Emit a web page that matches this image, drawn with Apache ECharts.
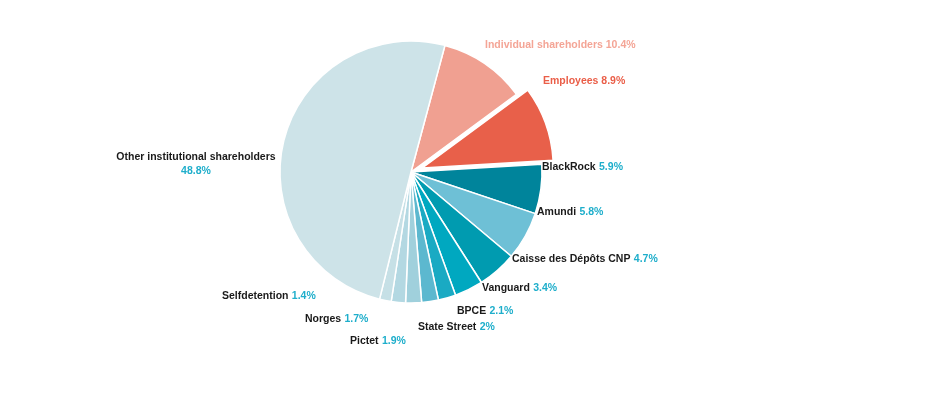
<!DOCTYPE html>
<html>
<head>
<meta charset="utf-8">
<script src="https://cdn.jsdelivr.net/npm/echarts@6/dist/echarts.min.js"></script>
<style>
html, body { margin: 0; padding: 0; background: #fff; }
#chart { width: 940px; height: 398px; }
</style>
</head>
<body>
<div id="chart"></div>
<script>
var names = ['Individual shareholders', 'Employees', 'BlackRock', 'Amundi', 'Caisse des Dépôts CNP',
	'Vanguard', 'BPCE', 'State Street', 'Pictet', 'Norges', 'Selfdetention', 'Other institutional shareholders'];
var values = [10.4, 8.9, 5.9, 5.8, 4.7, 3.4, 2.1, 2, 1.9, 1.7, 1.4, 48.8];
var colors = ['#f0a091', '#e8604a', '#00849b', '#6ec0d6', '#009bb0', '#00a8c0', '#1aaac3',
	'#5cb8cf', '#a0d0dc', '#b3d8e2', '#c6e0e6', '#cde3e8'];

// label anchor (left/middle unless noted)
var labelPos = {
	'Individual shareholders': [485, 45],
	'Employees': [543, 83],
	'BlackRock': [542, 167],
	'Amundi': [537, 212],
	'Caisse des Dépôts CNP': [512, 259],
	'Vanguard': [482, 288],
	'BPCE': [457, 311],
	'State Street': [418, 327],
	'Pictet': [350, 341],
	'Norges': [305, 319],
	'Selfdetention': [222, 296],
	'Other institutional shareholders': [196, 164]
};

var pieChart;

initChart();

function initChart() {
	pieChart = echarts.init(document.getElementById('chart'));
	var font = 'Liberation Sans, Arial';
	var data = names.map(function(n, i) {
		var item = {
			name: n,
			value: values[i],
			itemStyle: { color: colors[i] },
			label: {
				formatter: '{n|' + n + '} {v|' + values[i] + '%}'
			}
		};
		if (i === 0) {
			item.label.formatter = '{s|' + n + ' ' + values[i] + '%}';
		}
		if (i === 1) {
			// exploded slice: its label is drawn as graphic below
			item.selected = true;
			item.label.show = false;
		}
		if (i === names.length - 1) {
			item.label.formatter = '{n|' + n + '}\n{v|' + values[i] + '%}';
			item.label.align = 'center';
		}
		return item;
	});
	var rich = {
		n: { fontFamily: font, fontWeight: 'bold', fontSize: 10.5, color: '#1a1a1a', lineHeight: 14 },
		v: { fontFamily: font, fontWeight: 'bold', fontSize: 10.5, color: '#1eaecb', lineHeight: 14 },
		s: { fontFamily: font, fontWeight: 'bold', fontSize: 10.5, color: '#f4a596' }
	};
	var option = {
		animation: false,
		graphic: [{
			type: 'text',
			left: labelPos['Employees'][0],
			top: labelPos['Employees'][1] - 7,
			style: {
				text: names[1] + ' ' + values[1] + '%',
				font: 'bold 10.5px ' + font,
				fill: '#ea5e48'
			}
		}],
		series: [{
			type: 'pie',
			center: [411, 172],
			radius: [0, 131],
			startAngle: 75,
			clockwise: true,
			selectedMode: 'single',
			selectedOffset: 12,
			avoidLabelOverlap: false,
			itemStyle: { borderColor: '#fff', borderWidth: 1.5 },
			emphasis: { disabled: true },
			label: {
				show: true,
				position: 'outside',
				rich: rich
			},
			labelLine: { show: false },
			labelLayout: function(params) {
				var name = names[params.dataIndex];
				var p = labelPos[name];
				var last = params.dataIndex === names.length - 1;
				return {
					x: p[0],
					y: p[1],
					align: last ? 'center' : 'left',
					verticalAlign: 'middle'
				};
			},
			data: data
		}]
	};
	pieChart.setOption(option);
}
</script>
</body>
</html>
